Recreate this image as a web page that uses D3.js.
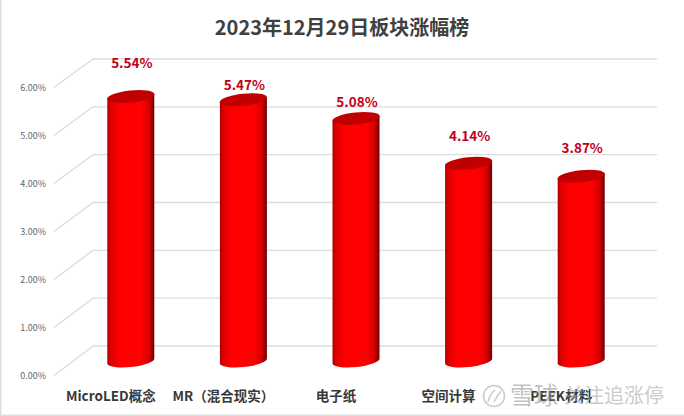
<!DOCTYPE html>
<html><head><meta charset="utf-8">
<script src="https://cdn.jsdelivr.net/npm/d3@7"></script>
<style>html,body{margin:0;padding:0;background:#fff}svg{display:block}text{font-family:"Noto Sans CJK SC","Noto Sans",sans-serif}</style>
</head><body><svg id="c" width="684" height="416"></svg>
<script>
const categories = ["MicroLED概念","MR（混合现实）","电子纸","空间计算","PEEK材料"];
const values = [5.54,5.47,5.08,4.14,3.87];
const valueLabels = ["5.54%","5.47%","5.08%","4.14%","3.87%"];
const yTicks = [0,1,2,3,4,5,6];
const labelLift = [32,13,15,26,27];
const title = "2023年12月29日板块涨幅榜";

const svg = d3.select("#c");
const W=684,H=416;
svg.append("rect").attr("x",.75).attr("y",-2).attr("width",W+4).attr("height",H+1.2).attr("fill","#fff").attr("stroke","#dedede").attr("stroke-width",1.5);

const yFront = d3.scaleLinear().domain([0,6]).range([375,87]);
const yBack = d3.scaleLinear().domain([0,6]).range([346,59]);
const yBar = d3.scaleLinear().domain([0,6]).range([361,74.5]);
const x = d3.scaleBand().domain(categories).range([74.5,637.5]).paddingInner(0).paddingOuter(0);
const depthX0=54, backX0=93, backX1=657;
const bw=47;

const defs=svg.append("defs");
const g=defs.append("linearGradient").attr("id","cyl");
[[0,"#b00000"],[.08,"#e00000"],[.28,"#ff0000"],[.72,"#ff0000"],[.88,"#d80000"],[.96,"#980000"],[1,"#6a0000"]]
 .forEach(d=>g.append("stop").attr("offset",d[0]).attr("stop-color",d[1]));

const grid=svg.append("g").attr("stroke","#dcdcdc").attr("stroke-width",1.3).attr("fill","none");
grid.selectAll(".b").data(yTicks).join("line").attr("x1",backX0).attr("x2",backX1).attr("y1",d=>yBack(d)).attr("y2",d=>yBack(d));
grid.selectAll(".s").data(yTicks).join("line").attr("x1",depthX0).attr("x2",backX0).attr("y1",d=>yFront(d)+.5).attr("y2",d=>yBack(d));

svg.append("g").selectAll("text").data(yTicks).join("text")
 .attr("x",46).attr("y",d=>yFront(d)+3.8).attr("text-anchor","end").attr("font-size",9).attr("fill","#666")
 .text(d=>d3.format(".2f")(d)+"%");

const bars=svg.append("g").selectAll("g").data(categories).join("g")
 .attr("transform",c=>`translate(${x(c)+x.bandwidth()/2},0)`);
const rx=bw/2, ry=6, tilt=2.4;
bars.append("path").attr("fill","url(#cyl)").attr("d",(c,i)=>{
  const t=yBar(values[i]), b=yBar(0);
  return `M${-rx},${t+tilt}L${rx},${t-tilt}L${rx},${b-tilt}A${rx},${ry} -6 0 1 ${-rx},${b+tilt}Z`;
});
bars.append("ellipse").attr("rx",rx+.3).attr("ry",ry).attr("fill","#c00000")
 .attr("transform",(c,i)=>`translate(0,${yBar(values[i])}) rotate(-6)`);

bars.append("text").attr("y",(c,i)=>yBar(values[i])-labelLift[i]+3.5).attr("x",1).attr("text-anchor","middle")
 .attr("font-size",13.5).attr("font-weight",700).attr("fill","#c00018").text((c,i)=>valueLabels[i]);
bars.append("text").attr("x",-20).attr("y",400.5).attr("text-anchor","middle")
 .attr("font-size",13.5).attr("font-weight",700).attr("fill","#383838").text(c=>c);

svg.append("text").attr("x",342).attr("y",35).attr("text-anchor","middle").attr("font-size",20).attr("font-weight",700).attr("fill","#404040").text(title);

const wm=svg.append("g").attr("opacity",.6);
wm.append("circle").attr("cx",494).attr("cy",396).attr("r",10.5).attr("fill","none").attr("stroke","#aaa").attr("stroke-width",1.5);
wm.append("path").attr("d","M488,402Q490,394 495,390M494,402Q497,396 501,391").attr("fill","none").attr("stroke","#aaa").attr("stroke-width",1.6);
wm.append("text").attr("x",510).attr("y",404).attr("font-size",24).attr("fill","#999").text("雪球");
wm.append("text").attr("x",564).attr("y",403).attr("font-size",20).attr("fill","#aaa").text("关注追涨停");
</script></body></html>
